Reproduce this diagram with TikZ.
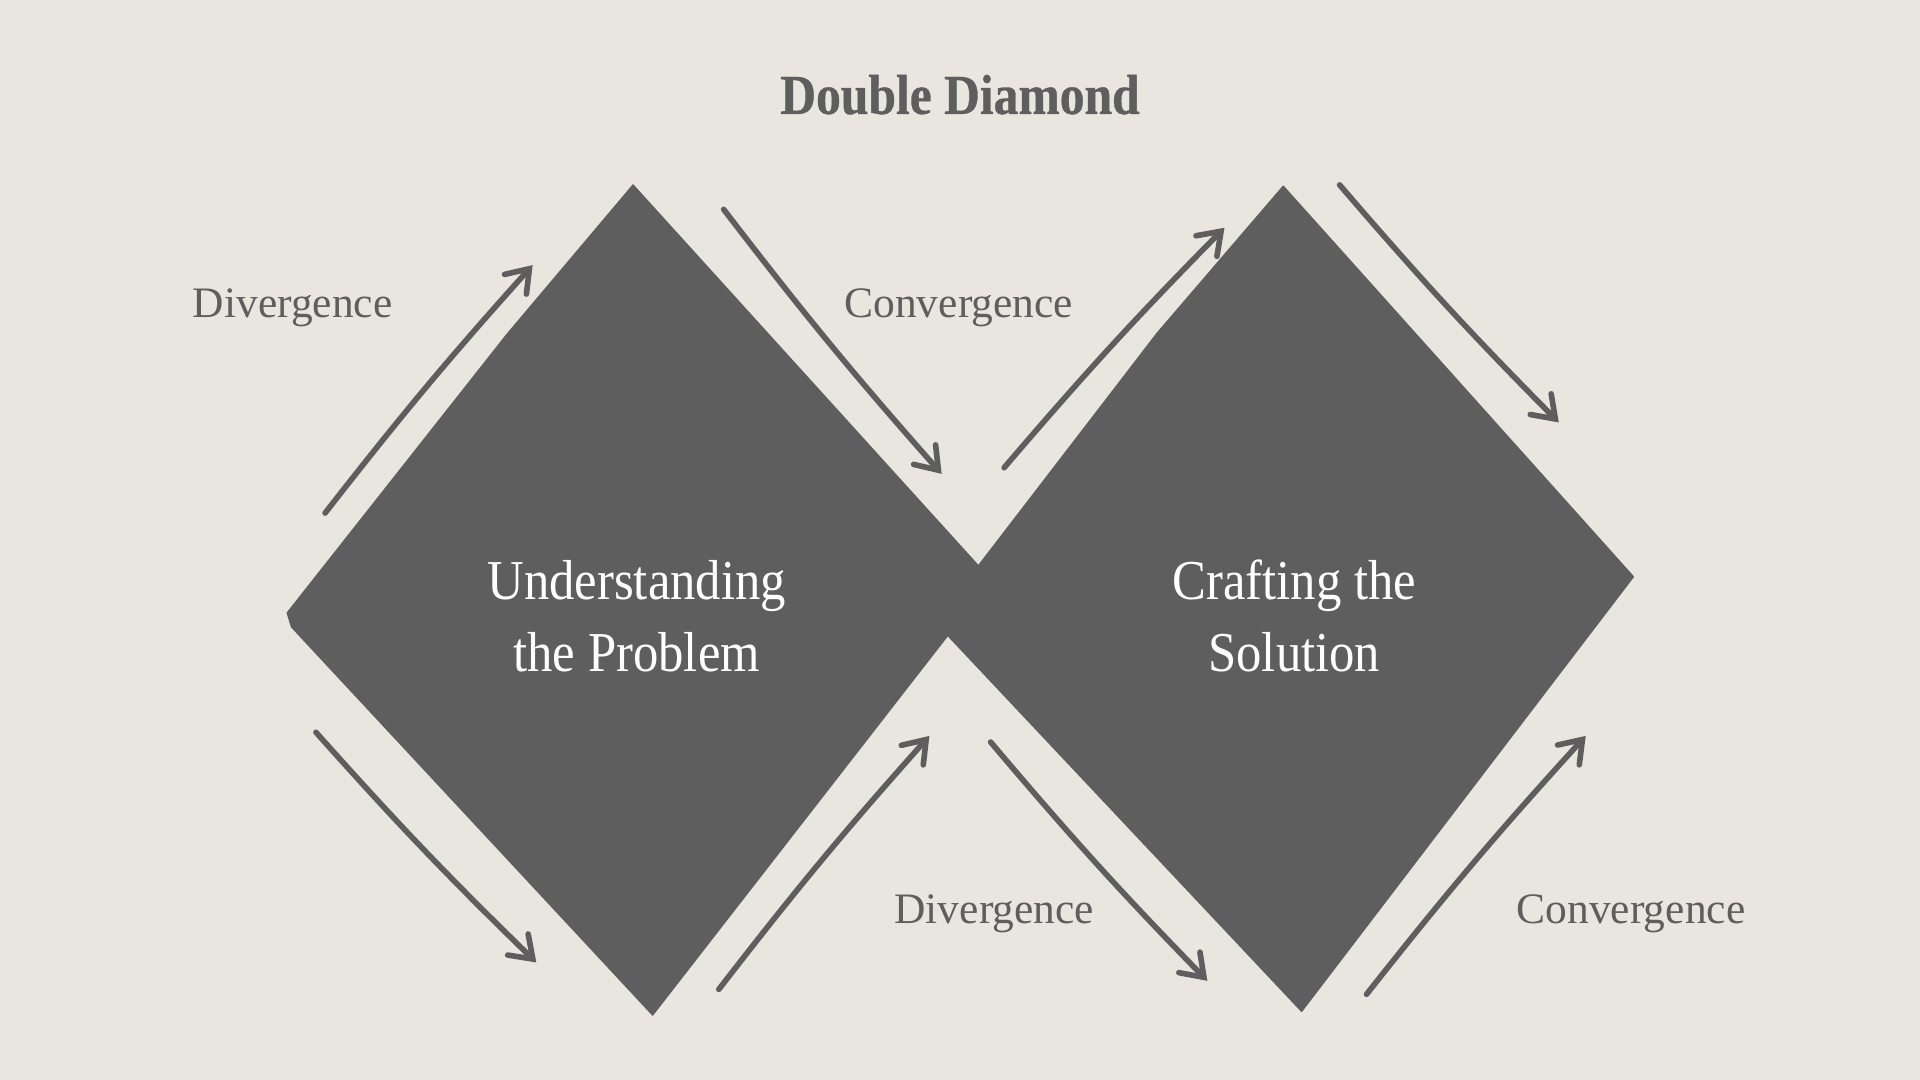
\documentclass[tikz,border=0pt]{standalone}
\usepackage{fontspec}
\setmainfont{Liberation Serif}
\newfontfamily\condfont[FakeStretch=0.9]{Liberation Serif}
\newfontfamily\titlefont[FakeStretch=0.88,FakeBold=0.6]{Liberation Serif}
\usetikzlibrary{arrows.meta}
\definecolor{bg}{HTML}{E9E6DF}
\definecolor{ink}{HTML}{5E5E5E}
\begin{document}
\begin{tikzpicture}[x=1pt,y=-1pt,
  diamondfill/.style={fill=ink,draw=ink,line width=1pt,line join=round},
  sketcharrow/.style={draw=ink,line width=4.6pt,line cap=round,line join=round,
    -{Straight Barb[length=17pt,width=24pt,line cap=round]}},
  phase/.style={font=\fontsize{35.5}{35.5}\selectfont,text=ink,anchor=base,inner sep=0pt},
  maintext/.style={font=\condfont\fontsize{46}{59}\selectfont,text=white,align=center,inner sep=0pt},
  titletext/.style={font=\titlefont\bfseries\fontsize{46}{46}\selectfont,text=ink,anchor=base,inner sep=0pt}]
\fill[bg] (0,0) rectangle (1568,882);
\useasboundingbox (0,0) rectangle (1568,882);
% diamond corners
\coordinate (Lt) at (517,151);
\coordinate (Lr) at (799,462);
\coordinate (Lb) at (533,829);
\coordinate (Ll) at (234.5,500.5);
\coordinate (Ll2) at (238,512);
\coordinate (Mid) at (774,519);
\coordinate (Rt) at (1048,152);
\coordinate (Rr) at (1334,471);
\coordinate (Rb) at (1063,826);
% diamonds
\path[diamondfill] (Lt) -- (414,273) -- (Ll) -- (Ll2) -- (Lb) -- (Mid) -- (Lr) -- cycle;
\path[diamondfill] (Rt) -- (Rr) -- (Rb) -- (Mid) -- (Lr) -- (945,272) -- cycle;
% texts
\node[titletext] (title) at (784,93) {Double Diamond};
\node[maintext] (problem) at (520,503) {Understanding\\the Problem};
\node[maintext] (solution) at (1057,503) {Crafting the\\Solution};
\node[phase] (div1) at (239,259) {Divergence};
\node[phase] (con1) at (783,259) {Convergence};
\node[phase] (div2) at (812,754) {Divergence};
\node[phase] (con2) at (1332,754) {Convergence};
% arrow end points
\coordinate (a1s) at (265.5,419);  \coordinate (a1e) at (435,216.5);
\coordinate (a2s) at (591,171);    \coordinate (a2e) at (769,387);
\coordinate (a3s) at (820,382);    \coordinate (a3e) at (1000,186);
\coordinate (a4s) at (1094,151);   \coordinate (a4e) at (1273,345);
\coordinate (a5s) at (258,598);    \coordinate (a5e) at (438,786);
\coordinate (a6s) at (587,808);    \coordinate (a6e) at (759,601);
\coordinate (a7s) at (809,606);    \coordinate (a7e) at (986,801);
\coordinate (a8s) at (1116,812);   \coordinate (a8e) at (1295,601);
\draw[sketcharrow] (a1s) to[bend left=2] (a1e);
\draw[sketcharrow] (a2s) to[bend right=2] (a2e);
\draw[sketcharrow] (a3s) to[bend left=2] (a3e);
\draw[sketcharrow] (a4s) to[bend right=2] (a4e);
\draw[sketcharrow] (a5s) to[bend right=2] (a5e);
\draw[sketcharrow] (a6s) to[bend left=2] (a6e);
\draw[sketcharrow] (a7s) to[bend right=2] (a7e);
\draw[sketcharrow] (a8s) to[bend left=2] (a8e);
\end{tikzpicture}
\end{document}
